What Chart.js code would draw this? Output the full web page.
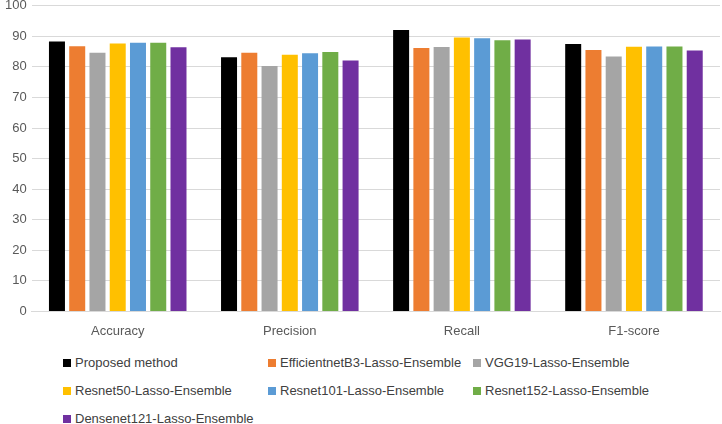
<!DOCTYPE html>
<html>
<head>
<meta charset="utf-8">
<script src="https://cdn.jsdelivr.net/npm/chart.js@4"></script>
<style>
  html, body { margin: 0; padding: 0; background: #fff; overflow: hidden; }
  #wrap { position: relative; width: 722px; height: 424px; overflow: hidden; }
  #chartBox { position: absolute; left: 0; top: -7px; width: 722px; height: 350px; }
  #legend { position: absolute; left: 63px; top: 354px; width: 659px;
            font-family: "Liberation Sans", sans-serif;
            font-size: 13px; color: #404040; }
  .item { position: absolute; white-space: nowrap; line-height: 18px; }
  .box { display: inline-block; width: 8px; height: 8px; margin-right: 4px; vertical-align: 0px; }
</style>
</head>
<body>
<div id="wrap">
  <div id="chartBox"><canvas id="barChart"></canvas></div>
  <div id="legend"></div>
</div>
<script>
const categories = ['Accuracy', 'Precision', 'Recall', 'F1-score'];

const methodNames = [
    'Proposed method',
    'EfficientnetB3-Lasso-Ensemble',
    'VGG19-Lasso-Ensemble',
    'Resnet50-Lasso-Ensemble',
    'Resnet101-Lasso-Ensemble',
    'Resnet152-Lasso-Ensemble',
    'Densenet121-Lasso-Ensemble'
];
const methodColors = ['#000000', '#ED7D31', '#A5A5A5', '#FFC000', '#5B9BD5', '#70AD47', '#7030A0'];

// values per method: Accuracy, Precision, Recall, F1-score
const proposed = [88.3, 83.2, 92.1, 87.5];
const efficientB3 = [86.8, 84.6, 86.2, 85.5];
const vgg19 = [84.6, 80.3, 86.5, 83.4];
const resnet50 = [87.7, 84.0, 89.6, 86.6];
const resnet101 = [87.9, 84.5, 89.4, 86.7];
const resnet152 = [87.9, 84.9, 88.7, 86.7];
const densenet121 = [86.4, 82.1, 89.0, 85.4];

const yTicks = [0, 10, 20, 30, 40, 50, 60, 70, 80, 90, 100];

document.addEventListener("DOMContentLoaded", function () {
    const ctx = document.getElementById("barChart").getContext("2d");
    const seriesValues = [proposed, efficientB3, vgg19, resnet50, resnet101, resnet152, densenet121];
    const fontFamily = '"Liberation Sans", sans-serif';

    const datasets = methodNames.map((name, i) => ({
        label: name,
        data: seriesValues[i],
        backgroundColor: methodColors[i],
        borderWidth: 0,
        barPercentage: 0.79,
        categoryPercentage: 0.824
    }));

    new Chart(ctx, {
        type: 'bar',
        data: { labels: categories, datasets: datasets },
        options: {
            responsive: true,
            maintainAspectRatio: false,
            animation: false,
            layout: { padding: { top: 0, right: 2, left: 0, bottom: 0 } },
            plugins: {
                legend: { display: false },
                tooltip: { enabled: false }
            },
            scales: {
                x: {
                    grid: { display: false },
                    border: { display: true, color: '#D9D9D9', width: 1 },
                    ticks: {
                        color: '#595959',
                        padding: 4,
                        font: { family: fontFamily, size: 13 }
                    }
                },
                y: {
                    min: 0,
                    max: 100,
                    afterBuildTicks: axis => { axis.ticks = yTicks.map(v => ({ value: v })); },
                    grid: { color: '#D9D9D9', drawTicks: false },
                    border: { display: false },
                    ticks: {
                        color: '#595959',
                        padding: 5,
                        font: { family: fontFamily, size: 13 }
                    }
                }
            }
        }
    });

    // legend laid out in fixed columns like the original
    const legendEl = document.getElementById("legend");
    methodNames.forEach((name, i) => {
        const item = document.createElement("div");
        item.className = "item";
        item.style.left = (i % 3) * 205 + "px";
        item.style.top = Math.floor(i / 3) * 28 + "px";
        item.innerHTML = '<span class="box" style="background:' + methodColors[i] + '"></span>' + name;
        legendEl.appendChild(item);
    });
});
</script>
</body>
</html>
